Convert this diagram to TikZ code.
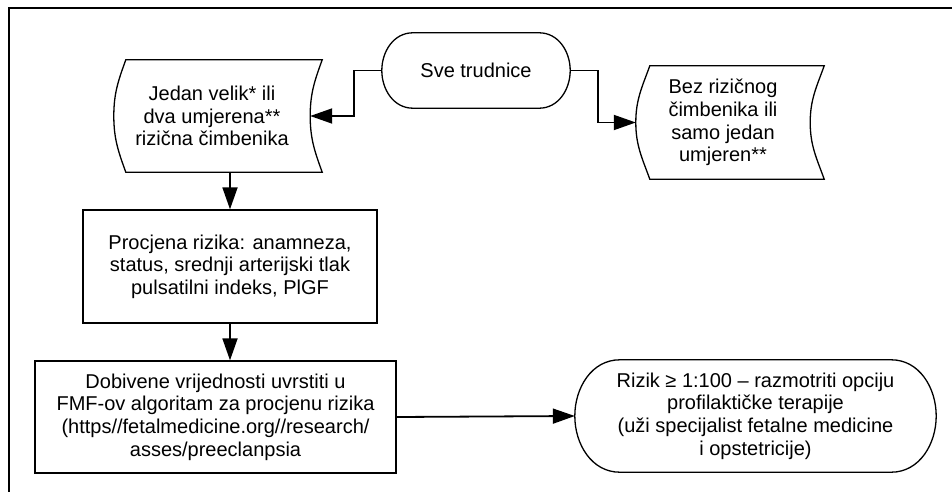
\documentclass[tikz,border=0pt]{standalone}
\usepackage{fontspec}
\setmainfont{Liberation Sans}
\usetikzlibrary{arrows.meta,calc}
\tikzset{
  txt/.style={align=center,inner sep=0pt,font=\fontsize{20}{22.6}\selectfont},
  box/.style={txt,draw,line width=1.3pt},
  outline/.style={line width=1.3pt},
  conn/.style={line width=1.8pt,-{Triangle[length=22pt,width=15pt]}}
}
% wavy data shape round a node, #2 = bulge
\newcommand{\tapeshape}[2]{%
  \draw[outline] ($(#1.north west)+(#2,0)$) -- ($(#1.north east)+(#2,0)$)
    to[out=250,in=90] (#1.east) to[out=270,in=110] ($(#1.south east)+(#2,0)$)
    -- ($(#1.south west)+(#2,0)$) to[out=110,in=270] (#1.west)
    to[out=90,in=250] ($(#1.north west)+(#2,0)$) -- cycle;}
% terminator round a node, #2 = end radius
\newcommand{\termshape}[2]{%
  \draw[outline] ($(#1.north west)+(#2,0)$) -- ($(#1.north east)+(-#2,0)$)
    to[out=0,in=90] (#1.east) to[out=270,in=0] ($(#1.south east)+(-#2,0)$)
    -- ($(#1.south west)+(#2,0)$) to[out=180,in=270] (#1.west)
    to[out=90,in=180] ($(#1.north west)+(#2,0)$) -- cycle;}
\begin{document}
\begin{tikzpicture}[x=1pt,y=1pt]
  \useasboundingbox (0,0) rectangle (952,-492);
  \draw[line width=1.3pt] (9,-492) -- (9,-8) -- (952,-8);

  \node[txt,minimum width=188,minimum height=75] (sve) at (476,-70.5) {Sve trudnice};
  \node[txt,minimum width=196,minimum height=112] (jedan) at (212,-116)
    {Jedan velik* ili\\dva umjerena**\\rizična čimbenika};
  \node[txt,minimum width=174,minimum height=113] (bez) at (723,-122.5)
    {Bez rizičnog\\čimbenika ili\\samo jedan\\umjeren**};
  \node[box,minimum width=294,minimum height=113] (procjena) at (230,-266.5)
    {Procjena rizika: anamneza,\\status, srednji arterijski tlak\\pulsatilni indeks, PlGF};
  \node[box,minimum width=361,minimum height=112] (dobivene) at (215.5,-417)
    {Dobivene vrijednosti uvrstiti u\\FMF-ov algoritam za procjenu rizika\\(https//fetalmedicine.org//research/\\asses/preeclanpsia};
  \node[txt,minimum width=361,minimum height=112] (rizik) at (755.5,-416)
    {Rizik ≥ 1:100 – razmotriti opciju\\profilaktičke terapije\\(uži specijalist fetalne medicine\\i opstetricije)};

  \termshape{sve}{31}
  \termshape{rizik}{45}
  \tapeshape{jedan}{12}
  \tapeshape{bez}{14}

  \draw[conn] (sve.west) -- ++(-28,0) |- (jedan.east);
  \draw[conn] (sve.east) -- ++(28,0) |- (bez.west);
  \draw[conn] (procjena.north |- jedan.south) -- (procjena.north);
  \draw[conn] (procjena.south) -- (procjena.south |- dobivene.north);
  \draw[conn] (dobivene.east) -- (rizik.west);
\end{tikzpicture}
\end{document}
